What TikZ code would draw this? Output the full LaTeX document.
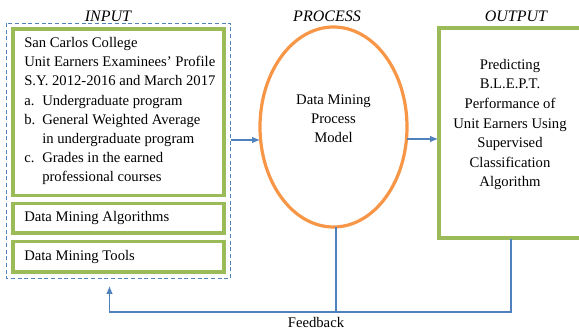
\documentclass[tikz,border=0pt]{standalone}
\usepackage{fontspec}
\setmainfont{Liberation Serif}
\usetikzlibrary{arrows.meta}
\definecolor{boxgreen}{HTML}{9BBB59}
\definecolor{procorange}{HTML}{F79646}
\definecolor{linkblue}{HTML}{4F81BD}
\begin{document}
\begin{tikzpicture}[x=0.75pt,y=-0.75pt,
  greenbox/.style={draw=boxgreen,line width=2.4pt},
  link/.style={draw=linkblue,line width=0.8pt},
  linkarrow/.style={link,-{Latex[length=6pt,width=5pt]}},
  heading/.style={font=\fontsize{12}{14}\selectfont\itshape,inner sep=0pt},
  body/.style={font=\fontsize{11}{14.4}\selectfont,inner sep=0pt}]
\useasboundingbox (0,0) rectangle (579,331);

% headings
\node[heading] (hin) at (108,16) {INPUT};
\node[heading] (hproc) at (327,16) {PROCESS};
\node[heading] (hout) at (516,16) {OUTPUT};

% input group
\draw[linkblue,dashed,line width=0.6pt,dash pattern=on 3pt off 2pt] (6.5,23) rectangle (230.5,278.5);
\draw[greenbox] (13,29) rectangle (224,195.5);
\draw[greenbox] (13,203.5) rectangle (224,233);
\draw[greenbox] (13,241.5) rectangle (224,272);
\coordinate (inright) at (231,140);

\node[body,anchor=north west,align=left] (profile) at (24,37) {San Carlos College\\
Unit Earners Examinees' Profile\\
S.Y. 2012-2016 and March 2017\\
\makebox[13.5pt][l]{a.}Undergraduate program\\
\makebox[13.5pt][l]{b.}General Weighted Average\\
\hspace*{13.5pt}in undergraduate program\\
\makebox[13.5pt][l]{c.}Grades in the earned\\
\hspace*{13.5pt}professional courses};
\node[body,anchor=west] (algos) at (24,218) {Data Mining Algorithms};
\node[body,anchor=west] (tools) at (24,256.5) {Data Mining Tools};

% process
\draw[procorange,line width=2.4pt] (333.5,127) ellipse [x radius=73.5,y radius=100];
\node[body,align=center] (model) at (333.5,119) {Data Mining\\Process\\Model};
\coordinate (procleft) at (260,140);
\coordinate (procright) at (407,139);
\coordinate (procbottom) at (336,227);

% output
\draw[greenbox] (439,28) rectangle (590,238);
\node[body,align=center,font=\fontsize{11}{14.7}\selectfont] (predict) at (510,124.5) {Predicting\\B.L.E.P.T.\\Performance of\\Unit Earners Using\\Supervised\\Classification\\Algorithm};
\coordinate (outleft) at (438,139);
\coordinate (outbottom) at (511,239);

% connectors
\draw[linkarrow] (inright) -- (procleft);
\draw[linkarrow] (procright) -- (outleft);
\coordinate (fbjoin) at (336,312);
\coordinate (fbcorner) at (109.5,312);
\coordinate (fbtip) at (109.5,286);
\draw[link] (procbottom) -- (fbjoin);
\draw[link] (outbottom) |- (fbjoin);
\draw[linkarrow] (fbjoin) -- (fbcorner) -- (fbtip);
\node[body] (fb) at (316,322.5) {Feedback};
\end{tikzpicture}
\end{document}
